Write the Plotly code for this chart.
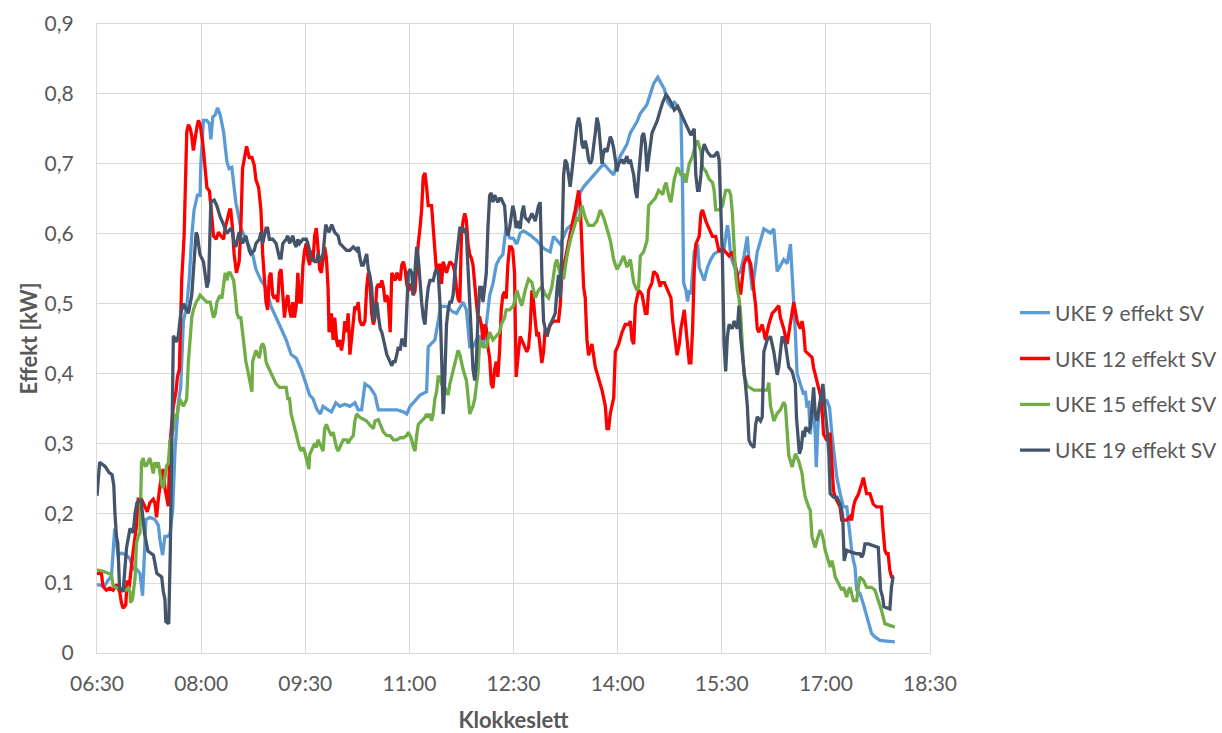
import pandas as pd
import plotly.graph_objects as go

# Power readings per week: (minutes after midnight, kW)
UKE9 = [
    (390, 0.098), (396.5, 0.096), (399.6, 0.104), (402.5, 0.11), (405.3, 0.178), (406.8, 0.162), (408.2, 0.14),
    (411.1, 0.143), (415.5, 0.14), (418.4, 0.135), (421.3, 0.12), (424.2, 0.12), (427.1, 0.114), (429.4, 0.082),
    (430.6, 0.13), (432.3, 0.191), (435.7, 0.194), (440, 0.191), (443, 0.183), (444.4, 0.162), (446.7, 0.14),
    (448.7, 0.167), (450.8, 0.167), (453.1, 0.170), (455.4, 0.204), (457.4, 0.289), (460.3, 0.358), (462.3, 0.38),
    (464.7, 0.475), (467.6, 0.496), (469.9, 0.539), (471.9, 0.597), (473.9, 0.634), (476.8, 0.655), (479.1, 0.655),
    (479.7, 0.698), (482, 0.762), (484.9, 0.762), (487.2, 0.757), (488.4, 0.735), (490.1, 0.767), (492.2, 0.77),
    (494.2, 0.78), (496.5, 0.77), (499.4, 0.746), (502.3, 0.703), (504.2, 0.693),
    (506.5, 0.695), (510, 0.645), (514.3, 0.608), (518.7, 0.592), (524.5, 0.571), (527.4, 0.549), (531.7, 0.533),
    (536.1, 0.523), (540.4, 0.496), (544.8, 0.48), (549.1, 0.464), (553.5, 0.448), (557.8, 0.427), (562.2, 0.422),
    (566.5, 0.406), (570.9, 0.385), (573.8, 0.369), (576.7, 0.364), (580.2, 0.348), (583.1, 0.342), (585.4, 0.353),
    (589.7, 0.348), (592.6, 0.345), (596.4, 0.358), (599.9, 0.353), (604.2, 0.356), (608.6, 0.353), (612.9, 0.358),
    (615.8, 0.348), (618.7, 0.348), (621.6, 0.385), (626, 0.380), (630.3, 0.369), (633.2, 0.348),
    (637.6, 0.348), (643.4, 0.348), (649.1, 0.348), (654.8, 0.345), (657.7, 0.342), (660.6, 0.353), (663.4, 0.358),
    (669.2, 0.369), (674.9, 0.374), (676.3, 0.438), (679.2, 0.443), (682.1, 0.448), (684.9, 0.475), (686.9, 0.496),
    (692.1, 0.496), (697.8, 0.488), (700.7, 0.486), (706.4, 0.502), (709.3, 0.491), (710.7, 0.459), (712.2, 0.438),
    (715, 0.438), (717.9, 0.448), (720.8, 0.454), (723.6, 0.438), (726.5, 0.470), (729.4, 0.512), (732.2, 0.528),
    (735.1, 0.555), (738, 0.565), (740.8, 0.570), (742.3, 0.592), (743.7, 0.608), (746.6, 0.594),
    (750, 0.593), (752.9, 0.585), (755.8, 0.601), (758.7, 0.604), (764.4, 0.598), (770.2, 0.590), (776, 0.579),
    (781.7, 0.574), (784.6, 0.596), (790.4, 0.585), (793.3, 0.596), (796.2, 0.607), (801.9, 0.615), (804.8, 0.634),
    (807.7, 0.659), (810.6, 0.667), (816.4, 0.678), (822.1, 0.689), (827.9, 0.700), (833.7, 0.689), (836.6, 0.684),
    (839.4, 0.700), (842.3, 0.711), (848.1, 0.728), (851, 0.744), (856.7, 0.760), (859.6, 0.772), (865.4, 0.785),
    (868.3, 0.799), (871.2, 0.815), (874.7, 0.824),
    (877.6, 0.815), (880.4, 0.807), (883.3, 0.788), (886.1, 0.782), (889, 0.788), (891.9, 0.782), (894.7, 0.772),
    (896.2, 0.656), (897, 0.530), (899, 0.519), (900.5, 0.503), (901.9, 0.519), (903.3, 0.513), (906.2, 0.574),
    (909.1, 0.585), (910.5, 0.552), (914.8, 0.533), (917.7, 0.552), (920.5, 0.563), (923.4, 0.571), (926.3, 0.574),
    (932, 0.579), (934.9, 0.612), (936.3, 0.596), (937.7, 0.568), (943.5, 0.541), (946.3, 0.546), (949.2, 0.568),
    (952.1, 0.596), (953.5, 0.563), (956.4, 0.519), (960.7, 0.574), (966.4, 0.607), (972.1, 0.601), (975, 0.607),
    (977.9, 0.546), (983.6, 0.563), (986.5, 0.557), (989.4, 0.585),
    (991.7, 0.523), (993.7, 0.456), (995.1, 0.400), (997.9, 0.385), (1000.8, 0.370), (1002.2, 0.375),
    (1003.7, 0.351), (1005.1, 0.361), (1006.5, 0.313), (1008, 0.342), (1009.4, 0.351), (1010.8, 0.313),
    (1011.7, 0.266), (1012.8, 0.313), (1013.7, 0.342), (1015.1, 0.351), (1018, 0.361), (1020.9, 0.361),
    (1023.2, 0.351), (1025.2, 0.313), (1028, 0.266), (1029.5, 0.251), (1032.3, 0.228), (1035.2, 0.209),
    (1038.1, 0.209), (1040.3, 0.170), (1042.3, 0.147), (1043.8, 0.132), (1045.2, 0.123), (1046.6, 0.090),
    (1049.5, 0.085), (1052.4, 0.070), (1054.7, 0.056), (1056.7, 0.042), (1059.5, 0.028), (1062.4, 0.023),
    (1066.7, 0.018), (1072.4, 0.017), (1079.6, 0.016),
]

UKE12 = [
    (390, 0.114), (393.8, 0.114), (395.2, 0.095), (398.1, 0.090), (401, 0.093), (403.9, 0.090), (406.8, 0.098),
    (409.7, 0.087), (411.1, 0.072), (412.6, 0.064), (414.9, 0.069), (416, 0.104), (417.7, 0.093), (419.7, 0.125),
    (421.3, 0.146), (424.2, 0.183), (425.6, 0.220), (428.5, 0.220), (431.4, 0.210), (433.4, 0.202), (435.7, 0.215),
    (438.6, 0.220), (440, 0.215), (441.5, 0.194), (443, 0.220), (444.4, 0.236), (445.9, 0.257), (447.3, 0.263),
    (448.7, 0.236), (451.6, 0.210), (453.1, 0.300), (456, 0.353), (458.3, 0.374), (459.5, 0.395), (461.2, 0.406),
    (463.2, 0.533), (465.3, 0.597), (467.6, 0.746), (469, 0.756), (470.5, 0.751), (471.9, 0.740), (473.3, 0.719),
    (474.8, 0.740), (476.2, 0.751), (477.7, 0.762), (479.1, 0.757), (481.4, 0.730), (483.5, 0.698), (485, 0.666),
    (487.2, 0.661), (489.3, 0.618), (490.7, 0.597), (493, 0.592), (495, 0.602), (497, 0.597), (499.4, 0.592),
    (500.8, 0.608), (502.3, 0.618), (504.6, 0.634),
    (505.6, 0.634), (507.1, 0.608), (508.5, 0.571), (510.5, 0.544), (512.9, 0.560), (514.3, 0.608), (515.8, 0.693),
    (517.2, 0.709), (519.3, 0.725), (521.6, 0.709), (523.9, 0.709), (525.9, 0.698), (527.4, 0.677), (529.7, 0.666),
    (531.7, 0.634), (533.2, 0.571), (534.6, 0.533), (536.1, 0.502), (537.5, 0.491), (539, 0.539), (540.4, 0.544),
    (541.9, 0.512), (543.3, 0.507), (544.8, 0.512), (546.2, 0.502), (547.7, 0.544), (549.1, 0.549), (550.6, 0.502),
    (552, 0.480), (553.5, 0.502), (554.9, 0.512), (556.4, 0.491), (557.8, 0.480), (559.3, 0.502), (560.7, 0.480),
    (562.2, 0.496), (563.6, 0.544), (565.1, 0.502), (566.5, 0.502), (568, 0.555), (569.4, 0.576), (570.9, 0.586),
    (572.3, 0.565), (573.8, 0.555), (575.2, 0.576), (576.7, 0.560), (578.1, 0.597), (579.6, 0.608), (581, 0.571),
    (582.5, 0.549), (583.9, 0.544), (585.4, 0.565), (586.8, 0.581), (588.3, 0.565), (589.7, 0.523), (590.6, 0.459),
    (592.6, 0.486), (594.1, 0.448), (595.5, 0.480), (597, 0.448), (598.4, 0.438), (599.9, 0.448), (601.3, 0.433),
    (602.8, 0.448), (604.2, 0.475), (605.7, 0.459), (607.1, 0.486), (608.6, 0.427), (610, 0.448), (611.5, 0.480),
    (612.9, 0.496), (614.4, 0.491), (615.8, 0.502), (617.3, 0.475), (618.7, 0.470), (620.2, 0.470), (621.6, 0.475),
    (623.1, 0.523), (624.5, 0.544), (626, 0.528), (627.4, 0.486), (628.9, 0.470), (630.3, 0.480), (631.8, 0.523),
    (633.2, 0.528),
    (634.8, 0.523), (636.2, 0.533), (637.6, 0.523), (639.1, 0.502), (640.5, 0.512), (641.9, 0.502), (643.4, 0.459),
    (644.8, 0.544), (647.7, 0.533), (649.1, 0.544), (650.5, 0.539), (652, 0.533), (653.4, 0.555), (654.8, 0.560),
    (656.3, 0.549), (657.7, 0.528), (659.1, 0.518), (660.6, 0.528), (662, 0.523), (663.4, 0.512), (664.9, 0.518),
    (666.3, 0.555), (667.7, 0.586), (669.2, 0.608), (670.6, 0.634), (672, 0.682), (673.5, 0.687), (674.9, 0.666),
    (676.3, 0.640), (679.2, 0.640), (680.6, 0.608), (682.1, 0.581), (683.5, 0.544), (684.9, 0.555), (686.4, 0.555),
    (687.8, 0.528), (689.2, 0.560), (692.1, 0.544), (695, 0.560), (697.8, 0.555), (699.3, 0.544), (700.7, 0.523),
    (702.1, 0.507), (703.6, 0.502), (705, 0.597), (706.4, 0.618), (707.9, 0.629), (709.3, 0.618), (710.7, 0.586),
    (712.2, 0.570), (713.6, 0.565), (715, 0.555), (716.5, 0.533), (717.9, 0.502), (719.3, 0.480), (720.8, 0.480),
    (722.2, 0.470), (723.6, 0.448), (725.1, 0.470), (726.5, 0.464), (727.9, 0.438), (729.4, 0.422), (730.8, 0.385),
    (732.2, 0.379), (733.7, 0.406), (735.1, 0.417), (736.5, 0.395), (738, 0.433), (739.4, 0.491), (740.8, 0.512),
    (742.3, 0.517), (743.7, 0.507), (745.1, 0.555), (746.6, 0.581), (748, 0.581), (749.4, 0.576), (750.9, 0.544),
    (752.3, 0.395),
    (754.3, 0.431), (755.8, 0.453), (758.7, 0.442), (761.5, 0.431), (763, 0.437), (764.4, 0.464), (765.9, 0.519),
    (767.3, 0.503), (768.8, 0.475), (770.2, 0.453), (771.6, 0.459), (773.1, 0.431), (774.5, 0.415), (776, 0.431),
    (777.4, 0.464), (778.9, 0.453), (781.7, 0.470), (784.6, 0.475), (788.9, 0.475), (790.4, 0.497), (791.8, 0.546),
    (794.7, 0.563), (797.6, 0.590), (800.5, 0.612), (803.4, 0.634), (806.3, 0.662), (807.7, 0.640), (809.1, 0.585),
    (810.6, 0.524), (812, 0.508), (813.5, 0.448), (814.9, 0.426), (817.8, 0.442), (820.7, 0.409), (823.6, 0.393),
    (826.5, 0.376), (829.3, 0.354), (830.8, 0.321), (832.2, 0.321), (833.7, 0.343), (836.6, 0.365), (838, 0.431),
    (840.9, 0.442), (843.8, 0.459), (846.6, 0.470), (849.5, 0.470), (851, 0.475), (852.4, 0.448), (853.9, 0.442),
    (855.3, 0.497), (858.2, 0.519), (861.1, 0.513), (864, 0.486), (865.4, 0.486), (866.8, 0.519), (869.7, 0.530),
    (871.2, 0.546), (874.1, 0.541), (876.9, 0.524),
    (877.6, 0.530), (880.4, 0.530), (883.3, 0.519), (886.1, 0.508), (887.6, 0.475), (888.4, 0.464), (889.6, 0.442),
    (891.4, 0.426), (893.3, 0.442), (894.7, 0.464), (897.6, 0.491), (899, 0.464), (900.5, 0.431), (901.9, 0.415),
    (903.3, 0.415), (904.8, 0.464), (906.2, 0.546), (907.6, 0.585), (910.5, 0.596), (912, 0.629), (913.4, 0.634),
    (916.3, 0.618), (919.1, 0.607), (922, 0.596), (924.8, 0.596), (927.7, 0.574), (930.6, 0.579), (933.4, 0.574),
    (936.3, 0.568), (939.2, 0.574), (942, 0.552), (943.5, 0.541), (944.9, 0.519), (946.3, 0.513), (949.2, 0.557),
    (952.1, 0.568), (955, 0.557), (957.8, 0.519), (959.3, 0.497), (960.7, 0.464), (962.1, 0.459), (965, 0.470),
    (967.8, 0.448), (970.7, 0.470), (973.6, 0.486), (976.4, 0.491), (979.3, 0.497), (980.7, 0.480), (983.6, 0.464),
    (986.5, 0.442), (989.3, 0.475), (992.2, 0.502), (995.1, 0.475), (997.9, 0.464),
    (999.4, 0.475), (1000.8, 0.461), (1002.2, 0.432), (1005.1, 0.428), (1008, 0.423), (1009.4, 0.408),
    (1010.8, 0.399), (1012.3, 0.390), (1013.7, 0.380), (1015.1, 0.370), (1016.6, 0.351), (1018, 0.313),
    (1020.9, 0.304), (1022.3, 0.313), (1023.7, 0.313), (1025.2, 0.266), (1026.6, 0.232), (1028, 0.223),
    (1030.9, 0.214), (1032.3, 0.209), (1033.7, 0.190), (1038, 0.190), (1040.9, 0.195), (1042.3, 0.190),
    (1043.8, 0.209), (1045.2, 0.218), (1048.1, 0.227), (1049.5, 0.237), (1050.9, 0.242), (1052.4, 0.251),
    (1053.8, 0.237), (1055.2, 0.228), (1058.1, 0.228), (1061, 0.213), (1063.8, 0.209), (1068.1, 0.209),
    (1069.5, 0.175), (1071, 0.147), (1072.4, 0.142), (1073.8, 0.142), (1075.3, 0.118), (1076.7, 0.109),
    (1078.1, 0.109),
]

UKE15 = [
    (390, 0.119), (395.2, 0.117), (399.6, 0.114), (402.5, 0.112), (403.9, 0.096), (406.8, 0.093), (409.7, 0.093),
    (412.6, 0.090), (415.5, 0.090), (417.1, 0.093), (418.5, 0.087), (418.9, 0.072), (420.7, 0.077), (421.9, 0.098),
    (423, 0.109), (424.1, 0.157), (425.6, 0.167), (427.1, 0.172), (428.5, 0.273), (429.9, 0.279), (431.4, 0.268),
    (432.8, 0.268), (434.3, 0.273), (435.7, 0.279), (437.2, 0.268), (438.6, 0.257), (440, 0.273), (441.5, 0.265),
    (443, 0.273), (444.4, 0.257), (445.9, 0.241), (447.3, 0.236), (448.7, 0.252), (450.2, 0.268), (451.6, 0.271),
    (453.1, 0.303), (454.5, 0.311), (456, 0.321), (457.4, 0.342), (458.9, 0.337), (460.3, 0.353), (461.7, 0.363),
    (463.2, 0.358), (464.6, 0.353), (466.1, 0.358), (467.5, 0.363), (469, 0.417), (470.5, 0.448), (471.9, 0.480),
    (473.3, 0.491), (475.7, 0.502), (477.7, 0.507), (479.1, 0.512), (482, 0.507), (484.9, 0.502), (487.8, 0.502),
    (490.7, 0.480), (492.2, 0.485), (493.6, 0.502), (495, 0.507), (496.5, 0.512), (497.9, 0.507), (499.4, 0.523),
    (500.8, 0.544), (502.3, 0.533), (503.7, 0.544), (505.2, 0.544), (506.6, 0.539), (508.1, 0.533), (509.5, 0.512),
    (511, 0.486), (512.4, 0.480), (514.3, 0.480),
    (515.8, 0.459), (517.2, 0.438), (518.7, 0.417), (520.1, 0.406), (521.6, 0.395), (523, 0.385), (523.9, 0.374),
    (524.5, 0.417), (525.9, 0.427), (527.4, 0.433), (528.8, 0.427), (530.3, 0.422), (531.7, 0.438), (533.2, 0.443),
    (534.6, 0.438), (536.1, 0.417), (537.5, 0.411), (540.4, 0.401), (543.3, 0.390), (544.8, 0.385), (547.7, 0.380),
    (553.5, 0.380), (554.9, 0.364), (556.4, 0.364), (557.8, 0.342), (559.3, 0.332), (560.7, 0.321), (562.2, 0.311),
    (563.6, 0.300), (565.1, 0.294), (566.5, 0.289), (568, 0.294), (569.4, 0.289), (570.9, 0.279), (572.3, 0.273),
    (573.2, 0.263), (573.8, 0.284), (575.2, 0.289), (576.7, 0.294), (578.1, 0.300), (579.6, 0.294), (581, 0.305),
    (582.5, 0.300), (583.9, 0.294), (585.4, 0.289), (586.8, 0.321), (588.3, 0.327), (589.7, 0.321), (591.2, 0.316),
    (592.6, 0.311), (594.1, 0.316), (595.5, 0.305), (597, 0.294), (598.4, 0.289), (599.9, 0.294), (601.3, 0.300),
    (602.8, 0.305), (605.7, 0.305), (607.1, 0.300), (608.6, 0.305), (611.5, 0.311), (612.9, 0.332), (614.4, 0.342),
    (617.3, 0.337), (620.2, 0.334), (623.1, 0.332), (626, 0.326), (628.9, 0.321), (630.3, 0.332), (633.2, 0.334),
    (634.8, 0.327), (637.6, 0.316), (640.5, 0.311), (643.4, 0.311), (646.2, 0.305), (649.1, 0.305), (652, 0.308),
    (654.8, 0.308), (657.7, 0.311), (659.1, 0.316), (660.6, 0.311), (662, 0.305), (663.4, 0.295), (664.9, 0.289),
    (666.3, 0.311), (667.7, 0.327), (670.6, 0.332), (673.5, 0.337), (674.9, 0.342), (676.3, 0.337), (677.8, 0.342),
    (679.2, 0.332), (680.6, 0.342), (682.1, 0.364), (683.5, 0.374), (684.9, 0.395), (686.4, 0.395), (687.8, 0.385),
    (690.7, 0.380), (693.5, 0.369), (695, 0.385), (697.8, 0.406), (700.7, 0.427), (702.1, 0.433), (703.6, 0.427),
    (706.4, 0.406), (709.3, 0.390), (710.7, 0.364), (712.2, 0.342), (713.6, 0.348), (715, 0.353), (716.5, 0.364),
    (717.9, 0.385), (719.3, 0.401), (720.8, 0.448), (723.6, 0.438), (726.5, 0.438), (729.4, 0.459), (732.2, 0.448),
    (735.1, 0.454), (738, 0.459), (739.4, 0.470), (740.8, 0.475), (742.3, 0.480), (743.7, 0.491), (746.6, 0.491),
    (750, 0.497), (751.4, 0.508), (752.9, 0.519), (755.8, 0.503), (757.2, 0.497), (760.1, 0.519), (763, 0.535),
    (765.9, 0.530), (768.8, 0.508), (771.6, 0.519), (774.5, 0.524), (777.4, 0.513), (780.3, 0.508), (783.2, 0.524),
    (786.1, 0.557), (787.5, 0.563), (790.4, 0.541), (793.3, 0.535), (796.2, 0.568), (799, 0.590), (801.9, 0.607),
    (804.8, 0.623), (806.3, 0.618), (809.1, 0.640), (812, 0.623), (814.9, 0.612), (819.2, 0.612), (822.1, 0.618),
    (825, 0.634), (827.9, 0.623), (830.8, 0.607), (833.7, 0.590), (836.6, 0.563), (839.4, 0.549), (842.3, 0.557),
    (845.2, 0.568), (848.1, 0.552), (851, 0.563), (853.9, 0.530), (856.7, 0.519), (858.2, 0.524), (859.6, 0.568),
    (862.5, 0.574), (865.4, 0.590), (866.8, 0.640), (869.7, 0.645), (872.6, 0.651), (875.5, 0.662),
    (879, 0.656), (880.4, 0.667), (881.9, 0.673), (884.7, 0.651), (886.1, 0.645), (889, 0.678), (891.9, 0.695),
    (894.7, 0.684), (897.6, 0.684), (899, 0.673), (901.9, 0.700), (904.8, 0.711), (907.6, 0.730), (909.1, 0.733),
    (912, 0.717), (913.4, 0.695), (916.3, 0.689), (919.1, 0.678), (922, 0.673), (923.4, 0.662), (924.8, 0.634),
    (927.7, 0.634), (930.6, 0.640), (933.4, 0.662), (936.3, 0.662), (937.7, 0.656), (939.2, 0.629), (940.6, 0.585),
    (942, 0.541), (943.5, 0.519), (944.9, 0.508), (946.3, 0.486), (947.8, 0.431), (949.2, 0.398), (952.1, 0.382),
    (957.8, 0.376), (963.5, 0.376), (969.3, 0.376), (970.7, 0.387), (972.1, 0.354), (975, 0.332), (977.9, 0.343),
    (980.7, 0.348), (983.6, 0.359), (985, 0.354), (986.5, 0.321), (987.9, 0.283), (990.8, 0.266), (993.6, 0.285),
    (996.5, 0.275), (997.9, 0.266), (999.4, 0.257), (1000.8, 0.237), (1002.2, 0.223), (1005.1, 0.209),
    (1006.5, 0.204), (1008, 0.166), (1009.4, 0.156), (1010.8, 0.151), (1012.3, 0.161), (1013.7, 0.170),
    (1015.1, 0.176), (1016.6, 0.170), (1018, 0.161), (1019.4, 0.147), (1020.9, 0.137), (1022.3, 0.132),
    (1023.7, 0.123), (1025.2, 0.132), (1026.6, 0.123), (1028, 0.109), (1029.5, 0.104), (1032.3, 0.094),
    (1033.7, 0.090), (1035.2, 0.094), (1038, 0.080), (1039.5, 0.090), (1040.9, 0.094), (1043.8, 0.075),
    (1046.6, 0.075), (1048.1, 0.094), (1049.5, 0.109), (1052.4, 0.104), (1055.2, 0.094), (1059.5, 0.094),
    (1062.4, 0.090), (1065.3, 0.075), (1068.1, 0.061), (1071, 0.042), (1075.3, 0.040), (1079.6, 0.037),
]

UKE19 = [
    (390, 0.225), (392.3, 0.273), (397, 0.267), (400.5, 0.258), (403, 0.255), (404.5, 0.24), (405.5, 0.2),
    (406.8, 0.167), (408, 0.157), (409.5, 0.093), (412.6, 0.088), (415.5, 0.15), (418.5, 0.178), (421.3, 0.172),
    (422.9, 0.2), (424.5, 0.215), (428, 0.22), (431, 0.172), (434, 0.146), (438.8, 0.14), (441.7, 0.114),
    (445.9, 0.109), (447.3, 0.088), (448.7, 0.077), (449.5, 0.045), (452, 0.042), (453.4, 0.15), (454.5, 0.316),
    (456, 0.454), (458.8, 0.445), (460.3, 0.454), (462.4, 0.486), (464.7, 0.5), (469, 0.486), (471.9, 0.512),
    (475.7, 0.602), (476.8, 0.597), (479, 0.57), (482, 0.56), (485, 0.523), (486.5, 0.533), (488.4, 0.645),
    (491.3, 0.648), (493.6, 0.64), (496.5, 0.624), (499.4, 0.613), (502.3, 0.6),
    (505.6, 0.608), (507.1, 0.602), (508.5, 0.586), (510, 0.581), (511.4, 0.592), (512.9, 0.602), (515.8, 0.586),
    (518.7, 0.597), (521.6, 0.576), (523, 0.571), (525.9, 0.576), (527.4, 0.586), (530.3, 0.592), (531.7, 0.602),
    (533.2, 0.586), (536.1, 0.608), (537.5, 0.608), (539, 0.592), (541.9, 0.592), (544.8, 0.586), (546.2, 0.576),
    (547.7, 0.565), (549.1, 0.565), (550.6, 0.586), (553.5, 0.592), (554.9, 0.597), (556.4, 0.586), (559.3, 0.597),
    (560.7, 0.586), (562.2, 0.581), (563.6, 0.592), (565.1, 0.586), (568, 0.592), (570.9, 0.592), (572.3, 0.586),
    (573.8, 0.576), (575.2, 0.565), (578.1, 0.560), (579.6, 0.560), (581, 0.571), (582.5, 0.560), (585.4, 0.571),
    (586.8, 0.597), (587.7, 0.613), (588.9, 0.608), (590.6, 0.602), (591.8, 0.608), (592.9, 0.613), (595.5, 0.602),
    (598.4, 0.597), (599.9, 0.586), (602.8, 0.581), (605.7, 0.576), (608.6, 0.576), (611.5, 0.581), (614.4, 0.576),
    (615.8, 0.581), (617.3, 0.565), (618.7, 0.555), (620.2, 0.555), (621.6, 0.565), (623.1, 0.571), (624.5, 0.549),
    (626, 0.539), (627.4, 0.523), (629.1, 0.475), (630.5, 0.491), (631.9, 0.502), (633.4, 0.480), (634.8, 0.464),
    (636.2, 0.459), (637.6, 0.448), (639.1, 0.438), (640.5, 0.427), (641.9, 0.422), (643.4, 0.417), (644.8, 0.411),
    (646.2, 0.417), (647.7, 0.417), (649.1, 0.427), (650.5, 0.438), (652, 0.433), (653.4, 0.448), (654.8, 0.448),
    (656.3, 0.438), (657.7, 0.491), (659.1, 0.544), (660.6, 0.549), (662, 0.544), (663.4, 0.512), (664.9, 0.555),
    (666.3, 0.581), (667.7, 0.565), (669.2, 0.523), (670.6, 0.502), (672, 0.480), (673.5, 0.470), (674.9, 0.502),
    (676.3, 0.523), (677.8, 0.533), (680.6, 0.533), (682.1, 0.544), (683.5, 0.549), (684.9, 0.544), (686.4, 0.502),
    (687.8, 0.427), (689.2, 0.342), (689.8, 0.353), (690.7, 0.406), (692.1, 0.470), (693.5, 0.491), (695, 0.502),
    (696.4, 0.502), (697.8, 0.512), (699.3, 0.544), (700.7, 0.570), (702.1, 0.586), (703.6, 0.608), (705, 0.608),
    (706.4, 0.602), (707.9, 0.608), (709.3, 0.597), (710.7, 0.544), (712.2, 0.491), (713.6, 0.448), (715, 0.406),
    (716.5, 0.390), (717.9, 0.417), (719.3, 0.480), (720.8, 0.523), (722.2, 0.523), (723.6, 0.502), (725.1, 0.523),
    (726.5, 0.544), (727.9, 0.608), (729.4, 0.655), (730.8, 0.658), (732.2, 0.645), (733.7, 0.655), (735.1, 0.650),
    (736.5, 0.645), (738, 0.650), (739.4, 0.650), (740.8, 0.645), (742.3, 0.640), (743.7, 0.608), (745.1, 0.597),
    (746.6, 0.608), (748, 0.629), (749.4, 0.640), (750.9, 0.629), (752.3, 0.608), (753.7, 0.618), (755.8, 0.607),
    (757.2, 0.629), (758.7, 0.640), (760.1, 0.623), (763, 0.618), (765.9, 0.629), (768.8, 0.618), (771.6, 0.640),
    (773.1, 0.645), (774.5, 0.541), (776, 0.475), (777.4, 0.464), (778.9, 0.453), (780.3, 0.464), (781.7, 0.470),
    (784.6, 0.480), (786.1, 0.486), (787.5, 0.519), (788.9, 0.541), (790.4, 0.508), (791.8, 0.574), (793.3, 0.684),
    (794.7, 0.706), (796.2, 0.700), (797.6, 0.684), (799, 0.667), (800.5, 0.689), (801.9, 0.711), (803.4, 0.739),
    (804.8, 0.755), (806.3, 0.766), (807.7, 0.755), (809.1, 0.728), (810.6, 0.722), (812, 0.733), (813.5, 0.722),
    (814.9, 0.706), (816.4, 0.700), (817.8, 0.706), (819.2, 0.722), (820.7, 0.744), (822.1, 0.766), (823.6, 0.755),
    (825, 0.728), (826.5, 0.700), (827.9, 0.717), (829.3, 0.722), (830.8, 0.717), (832.2, 0.728), (833.7, 0.739),
    (835.1, 0.733), (836.6, 0.722), (838, 0.706), (839.4, 0.689), (840.9, 0.700), (843.8, 0.706), (845.2, 0.700),
    (848.1, 0.711), (849.5, 0.700), (851, 0.706), (852.4, 0.695), (853.9, 0.684), (855.3, 0.662), (856.7, 0.651),
    (858.2, 0.684), (859.6, 0.711), (861.1, 0.739), (862.5, 0.744), (864, 0.728), (865.4, 0.689), (866.8, 0.706),
    (868.3, 0.728), (869.7, 0.744), (871.2, 0.750), (874.1, 0.761), (876.9, 0.777),
    (877.6, 0.782), (879, 0.788), (881.9, 0.799), (883.3, 0.796), (886.1, 0.788), (889, 0.777), (891.9, 0.782),
    (894.7, 0.772), (897.6, 0.760), (900.5, 0.750), (903.3, 0.741), (906.2, 0.750), (907.6, 0.684), (909.1, 0.662),
    (910.5, 0.662), (912, 0.684), (913.4, 0.717), (914.8, 0.728), (917.7, 0.717), (920.5, 0.711), (923.4, 0.711),
    (926.3, 0.717), (927.7, 0.706), (929.1, 0.640), (930.6, 0.563), (932, 0.442), (933.4, 0.403), (934.9, 0.453),
    (936.3, 0.470), (939.2, 0.464), (940.6, 0.475), (943.5, 0.464), (944.9, 0.497), (946.3, 0.453), (947.8, 0.431),
    (949.2, 0.409), (950.6, 0.382), (952.1, 0.354), (953.5, 0.305), (955, 0.299), (957.8, 0.294), (959.3, 0.327),
    (960.7, 0.338), (963.5, 0.332), (965, 0.338), (966.4, 0.431), (969.3, 0.448), (972.1, 0.453), (975, 0.431),
    (977.9, 0.398), (979.3, 0.409), (980.7, 0.431), (982.2, 0.453), (985, 0.442), (987.9, 0.409), (990.8, 0.403),
    (993.6, 0.385), (994.6, 0.337), (997.1, 0.285), (998.8, 0.294), (1000.2, 0.318), (1001.4, 0.309),
    (1002.5, 0.323), (1005.1, 0.318), (1006.5, 0.323), (1008, 0.351), (1009.4, 0.380), (1010.8, 0.342),
    (1012.3, 0.332), (1013.7, 0.347), (1015.1, 0.361), (1016.6, 0.370), (1017.4, 0.385), (1018.6, 0.361),
    (1020.3, 0.337), (1021.4, 0.313), (1022.6, 0.285), (1023.7, 0.228), (1026.6, 0.223), (1029.5, 0.223),
    (1030.9, 0.218), (1032.3, 0.213), (1033.7, 0.204), (1034.6, 0.194), (1035.8, 0.132), (1036.9, 0.142),
    (1038, 0.147), (1040.9, 0.145), (1046.6, 0.142), (1049.5, 0.142), (1050.9, 0.137), (1052.4, 0.142),
    (1053.8, 0.156), (1056.7, 0.156), (1061, 0.154), (1065.3, 0.151), (1066.2, 0.123), (1067.3, 0.090),
    (1069, 0.080), (1070.2, 0.066), (1075.3, 0.063), (1076.7, 0.094), (1078.1, 0.109), (1079, 0.109),
]

SERIES_NAMES = ["UKE 9 effekt SV", "UKE 12 effekt SV", "UKE 15 effekt SV", "UKE 19 effekt SV"]
SERIES_COLORS = ["#5B9BD5", "#FF0000", "#70AD47", "#44546A"]
TICK_LABELS = ["06:30", "08:00", "09:30", "11:00", "12:30", "14:00", "15:30", "17:00", "18:30"]

DAY = pd.Timestamp("2021-03-01")


def clock(minutes):
    return DAY + pd.to_timedelta(minutes, unit="min")


def tick_time(label):
    hh, mm = label.split(":")
    return DAY + pd.Timedelta(hours=int(hh), minutes=int(mm))


fig = go.Figure()
for name, color, data in zip(SERIES_NAMES, SERIES_COLORS, [UKE9, UKE12, UKE15, UKE19]):
    minutes = [p[0] for p in data]
    kw = [p[1] for p in data]
    fig.add_trace(go.Scatter(
        x=clock(pd.Series(minutes)), y=kw, name=name, mode="lines",
        legendgroup=name,
        line=dict(color=color, width=3.3),
    ))

tickvals = [tick_time(t) for t in TICK_LABELS]
grid = "#D9D9D9"
txt = "#595959"

fig.update_layout(
    width=1222, height=733,
    margin=dict(l=97, r=292, t=24, b=80, autoexpand=False),
    paper_bgcolor="white", plot_bgcolor="white",
    separators=", ",
    font=dict(family="Lato, sans-serif", size=21, color=txt),
    legend=dict(
        xref="container", yref="container",
        x=0.8306, y=0.4795, xanchor="left", yanchor="middle",
        font=dict(size=21, color=txt), tracegroupgap=15.5,
        bgcolor="rgba(0,0,0,0)",
    ),
    xaxis=dict(
        type="date", range=[tickvals[0], tickvals[-1]], automargin=False,
        tickmode="array", tickvals=tickvals, ticktext=TICK_LABELS,
        showgrid=True, gridcolor=grid, gridwidth=1.3,
        showline=True, linecolor=grid, linewidth=1.3, mirror=True,
        ticks="", ticklabelstandoff=12,
        tickfont=dict(size=21, color=txt),
        title=dict(text="<b>Klokkeslett</b>", font=dict(size=22, color=txt), standoff=25),
    ),
    yaxis=dict(
        range=[0, 0.9], tick0=0, dtick=0.1, automargin=False,
        showgrid=True, gridcolor=grid, gridwidth=1.3, zeroline=False,
        showline=True, linecolor=grid, linewidth=1.3, mirror=True,
        ticks="", ticklabelstandoff=18,
        tickfont=dict(size=21, color=txt),
        title=dict(text="<b>Effekt [kW]</b>", font=dict(size=22, color=txt), standoff=0),
    ),
)

fig.write_html("out.html")
